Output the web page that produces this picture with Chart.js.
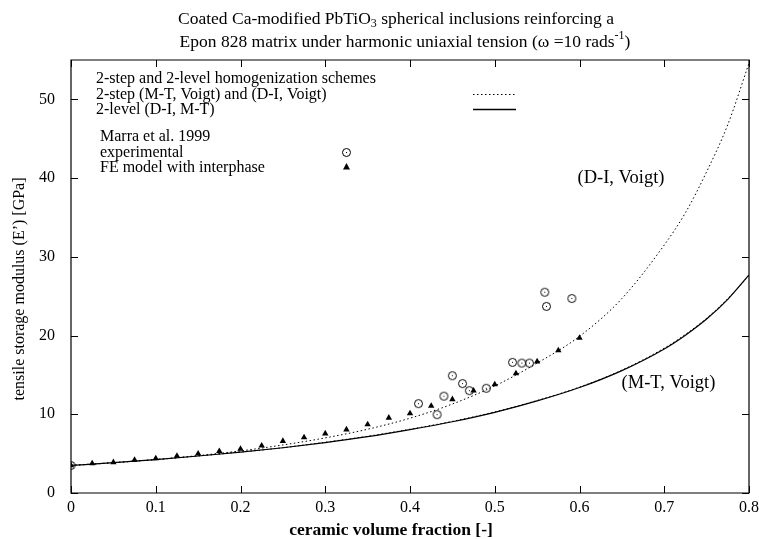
<!DOCTYPE html>
<html>
<head>
<meta charset="utf-8">
<script src="https://cdn.jsdelivr.net/npm/chart.js@4.4.0/dist/chart.umd.min.js"></script>
<style>
    html, body { margin: 0; padding: 0; background: #fff; }
    #wrap { width: 759px; height: 539px; }
</style>
</head>
<body>
<div id="wrap"><canvas id="modulusChart" width="759" height="539"></canvas></div>
<script>
// model curves, sampled along the ceramic volume fraction
const curveFractions = [0, 0.05, 0.1, 0.15, 0.2, 0.25, 0.3, 0.35, 0.4, 0.45, 0.5, 0.55, 0.6, 0.65, 0.7, 0.725, 0.75, 0.775, 0.8];
const diVoigt = [3.5, 3.85, 4.25, 4.75, 5.35, 6.1, 7.0, 8.1, 9.5, 11.3, 13.6, 16.5, 19.9, 24.7, 31.5, 35.6, 40.8, 46.8, 54.6];
const mtVoigt = [3.5, 3.85, 4.25, 4.7, 5.2, 5.75, 6.45, 7.2, 8.1, 9.1, 10.3, 11.75, 13.45, 15.6, 18.4, 20.15, 22.2, 24.7, 27.6];
const diMt = [3.5, 3.85, 4.25, 4.7, 5.2, 5.75, 6.4, 7.15, 8.05, 9.05, 10.25, 11.7, 13.4, 15.55, 18.3, 20.05, 22.1, 24.6, 27.7];

// FE model with interphase
const feFractions = [0, 0.025, 0.05, 0.075, 0.1, 0.125, 0.15, 0.175, 0.2, 0.225, 0.25, 0.275, 0.3, 0.325, 0.35, 0.375, 0.4, 0.425, 0.45, 0.475, 0.5, 0.525, 0.55, 0.575, 0.6];
const feModulus = [3.5, 3.76, 3.9, 4.2, 4.4, 4.7, 5.0, 5.3, 5.6, 6.0, 6.6, 7.05, 7.55, 8.06, 8.7, 9.55, 10.1, 11.05, 11.9, 13.0, 13.8, 15.2, 16.7, 18.1, 19.7];

// Marra et al. 1999 experimental
const expFractions = [0, 0.41, 0.432, 0.44, 0.45, 0.462, 0.47, 0.49, 0.521, 0.532, 0.541, 0.559, 0.561, 0.591];
const expModulus = [3.5, 11.35, 9.95, 12.3, 14.9, 13.9, 13.0, 13.3, 16.6, 16.5, 16.5, 25.5, 23.7, 24.7];

const xTicks = [0, 0.1, 0.2, 0.3, 0.4, 0.5, 0.6, 0.7, 0.8];
const yTicks = [0, 10, 20, 30, 40, 50];

const serif = "'Liberation Serif', 'DejaVu Serif', serif";

function toPoints(xs, ys) {
    return xs.map((x, i) => ({ x: x, y: ys[i] }));
}

// open circle with a dot in the middle (gnuplot style)
function makeCircleMarker() {
    const c = document.createElement('canvas');
    c.width = 11;
    c.height = 11;
    const g = c.getContext('2d');
    g.strokeStyle = '#000';
    g.lineWidth = 1;
    g.beginPath();
    g.arc(5.5, 5.5, 4, 0, Math.PI * 2);
    g.stroke();
    g.fillStyle = '#000';
    g.fillRect(5, 5, 1, 1);
    return c;
}
const circleMarker = makeCircleMarker();

// text with a sub/superscript piece in the middle, centred on cx
function drawScripted(ctx, parts, cx, y, big, small) {
    let total = 0;
    parts.forEach(p => {
        ctx.font = p.shift ? small : big;
        p.w = ctx.measureText(p.text).width;
        total += p.w;
    });
    let x = cx - total / 2;
    parts.forEach(p => {
        ctx.font = p.shift ? small : big;
        ctx.fillText(p.text, x, y + (p.shift || 0));
        x += p.w;
    });
}

// frame, inward ticks on all sides, title, axis titles, legend and curve labels
const decorPlugin = {
    id: 'decor',
    afterDraw(chart) {
        const ctx = chart.ctx;
        const a = chart.chartArea;
        const xs = chart.scales.x;
        const ys = chart.scales.y;
        ctx.save();
        ctx.setLineDash([]);
        ctx.globalAlpha = 1;
        ctx.strokeStyle = '#000';
        ctx.lineWidth = 1.2;
        ctx.beginPath();
        ctx.rect(a.left, a.top, a.right - a.left, a.bottom - a.top);
        ctx.stroke();

        ctx.lineWidth = 1;
        const tl = 7;
        ctx.beginPath();
        xTicks.forEach(v => {
            const px = Math.round(xs.getPixelForValue(v)) + 0.5;
            ctx.moveTo(px, a.bottom); ctx.lineTo(px, a.bottom - tl);
            ctx.moveTo(px, a.top); ctx.lineTo(px, a.top + tl);
        });
        yTicks.forEach(v => {
            const py = Math.round(ys.getPixelForValue(v)) + 0.5;
            ctx.moveTo(a.left, py); ctx.lineTo(a.left + tl, py);
            ctx.moveTo(a.right, py); ctx.lineTo(a.right - tl, py);
        });
        ctx.stroke();

        ctx.fillStyle = '#000';
        ctx.textBaseline = 'middle';
        ctx.textAlign = 'left';

        // two line title
        const tf = '17.5px ' + serif;
        const sf = '12px ' + serif;
        drawScripted(ctx, [
            { text: 'Coated Ca-modified PbTiO' },
            { text: '3', shift: 5 },
            { text: ' spherical inclusions reinforcing a' }
        ], 396, 19, tf, sf);
        drawScripted(ctx, [
            { text: 'Epon 828 matrix under harmonic uniaxial tension (\u03c9 =10 rads' },
            { text: '-1', shift: -6 },
            { text: ')' }
        ], 405, 42, tf, sf);

        // axis titles
        ctx.textAlign = 'center';
        ctx.font = 'bold 17.5px ' + serif;
        ctx.fillText('ceramic volume fraction [-]', 391, 530);
        ctx.save();
        ctx.translate(20, 289);
        ctx.rotate(-Math.PI / 2);
        ctx.font = '16px ' + serif;
        ctx.fillText('tensile storage modulus (E\u2019) [GPa]', 0, 0);
        ctx.restore();

        // legend
        ctx.textAlign = 'left';
        ctx.font = '16px ' + serif;
        const lx = a.left + 25;
        ctx.fillText('2-step and 2-level homogenization schemes', lx, a.top + 19);
        ctx.fillText('2-step (M-T, Voigt) and (D-I, Voigt)', lx, a.top + 34.5);
        ctx.fillText('2-level (D-I, M-T)', lx, a.top + 50);
        ctx.fillText('Marra et al. 1999', lx + 4, a.top + 77);
        ctx.fillText('experimental', lx + 4, a.top + 93);
        ctx.fillText('FE model with interphase', lx + 4, a.top + 107.5);

        ctx.beginPath();
        ctx.setLineDash([1.5, 2.5]);
        ctx.moveTo(a.left + 402, a.top + 34.5);
        ctx.lineTo(a.left + 445, a.top + 34.5);
        ctx.stroke();
        ctx.setLineDash([]);
        ctx.beginPath();
        ctx.lineWidth = 1.3;
        ctx.moveTo(a.left + 402, a.top + 49.5);
        ctx.lineTo(a.left + 445, a.top + 49.5);
        ctx.stroke();

        ctx.drawImage(circleMarker, a.left + 270, a.top + 87);
        ctx.beginPath();
        ctx.moveTo(a.left + 275.5, a.top + 103);
        ctx.lineTo(a.left + 279, a.top + 109.5);
        ctx.lineTo(a.left + 272, a.top + 109.5);
        ctx.closePath();
        ctx.fill();

        // curve labels
        ctx.font = '18.5px ' + serif;
        ctx.textAlign = 'center';
        ctx.fillText('(D-I, Voigt)', xs.getPixelForValue(0.649), ys.getPixelForValue(40.0));
        ctx.fillText('(M-T, Voigt)', xs.getPixelForValue(0.705), ys.getPixelForValue(13.9));
        ctx.restore();
    }
};

const modulusCtx = document.getElementById('modulusChart').getContext('2d');
const modulusChart = new Chart(modulusCtx, {
    type: 'scatter',
    data: {
        datasets: [
            {
                label: '(D-I, Voigt)',
                type: 'line',
                data: toPoints(curveFractions, diVoigt),
                borderColor: '#000',
                borderWidth: 1,
                borderDash: [1.5, 2.5],
                pointRadius: 0,
                fill: false,
                cubicInterpolationMode: 'monotone'
            },
            {
                label: '(M-T, Voigt)',
                type: 'line',
                data: toPoints(curveFractions, mtVoigt),
                borderColor: '#000',
                borderWidth: 1,
                borderDash: [1.5, 2.5],
                pointRadius: 0,
                fill: false,
                cubicInterpolationMode: 'monotone'
            },
            {
                label: '2-level (D-I, M-T)',
                type: 'line',
                data: toPoints(curveFractions, diMt),
                borderColor: '#000',
                borderWidth: 1.2,
                pointRadius: 0,
                fill: false,
                cubicInterpolationMode: 'monotone'
            },
            {
                label: 'FE model with interphase',
                data: toPoints(feFractions, feModulus),
                pointStyle: 'triangle',
                pointRadius: 3.7,
                backgroundColor: '#000',
                borderColor: '#000',
                borderWidth: 0
            },
            {
                label: 'experimental',
                data: toPoints(expFractions, expModulus),
                pointStyle: circleMarker,
                pointRadius: 5
            }
        ]
    },
    options: {
        responsive: false,
        animation: false,
        layout: { padding: { top: 60, right: 0, left: 0, bottom: 0 } },
        plugins: {
            legend: { display: false },
            title: { display: false },
            tooltip: { enabled: false }
        },
        scales: {
            x: {
                type: 'linear',
                min: 0,
                max: 0.8,
                afterBuildTicks: scale => { scale.ticks = xTicks.map(v => ({ value: v })); },
                afterFit: scale => {
                    scale.height = 46;
                    scale.paddingLeft = 0;
                    scale.paddingRight = 10;
                },
                grid: { display: false, drawTicks: false },
                border: { display: false },
                ticks: {
                    color: '#000',
                    padding: 5,
                    maxRotation: 0,
                    font: { family: serif, size: 16 },
                    callback: v => (v === 0 ? '0' : v.toFixed(1))
                }
            },
            y: {
                min: 0,
                max: 55,
                afterBuildTicks: scale => { scale.ticks = yTicks.map(v => ({ value: v })); },
                afterFit: scale => { scale.width = 71; },
                grid: { display: false },
                border: { display: false },
                ticks: {
                    color: '#000',
                    padding: 8,
                    font: { family: serif, size: 16 }
                }
            }
        }
    },
    plugins: [decorPlugin]
});
</script>
</body>
</html>
